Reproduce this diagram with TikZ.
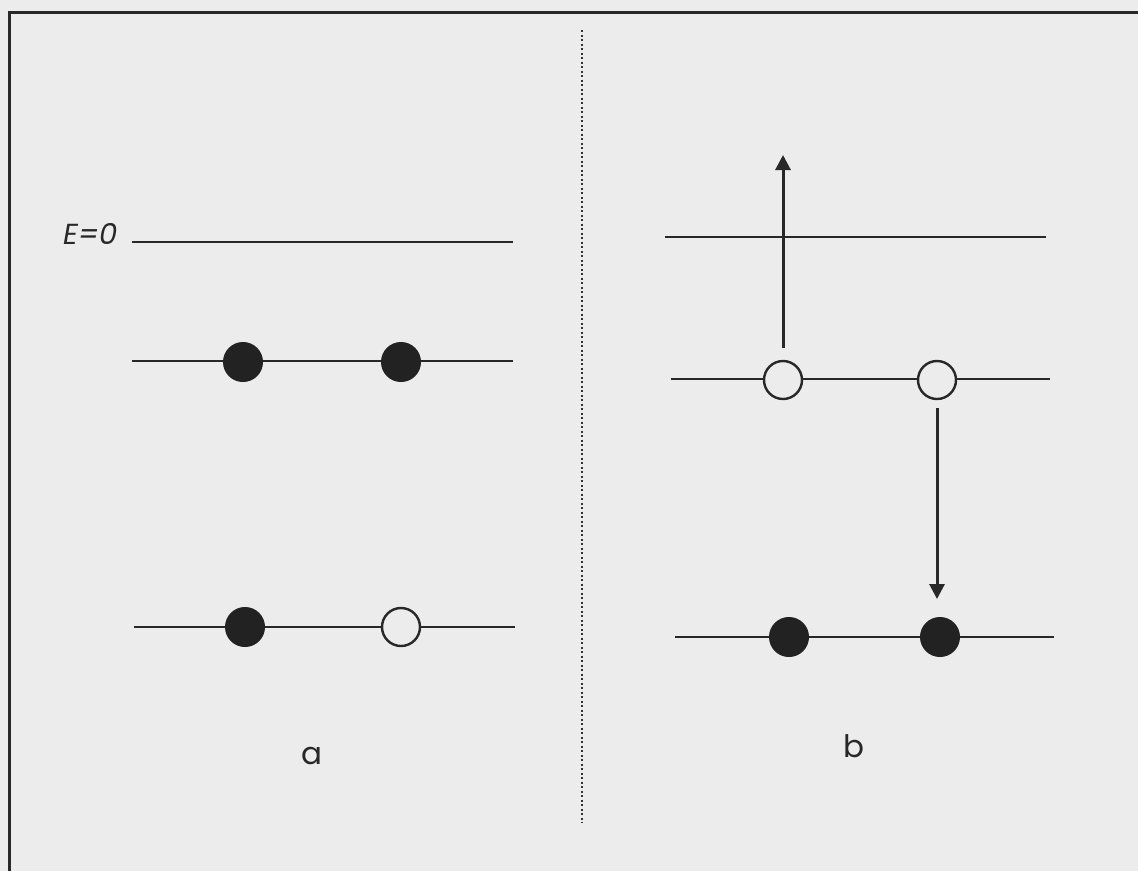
\documentclass[tikz,border=0pt]{standalone}
\usepackage{fontspec}
\setmainfont{Poppins}
\usetikzlibrary{arrows.meta}
\definecolor{bg}{RGB}{236,236,236}
\definecolor{ink}{RGB}{40,40,40}
\definecolor{dotc}{RGB}{50,50,50}
\begin{document}
\begin{tikzpicture}[x=1pt,y=-1pt,
  level/.style={draw=ink,line width=2.4pt},
  full/.style={circle,fill=ink!85!black,draw=ink!85!black,line width=1pt,minimum size=39pt,inner sep=0pt},
  hole/.style={circle,fill=bg,draw=ink,line width=2.4pt,minimum size=38pt,inner sep=0pt},
  jump/.style={draw=ink,line width=3pt,-{Triangle[length=15pt,width=15pt]}},
  lab/.style={font=\fontsize{31}{35}\selectfont,text=ink,anchor=base}]
\useasboundingbox (0,0) rectangle (1138,871);
\fill[bg] (0,0) rectangle (1138,871);
% frame
\draw[ink,line width=3pt] (9,871) -- (9,12) -- (1138,12);
% divider
\coordinate (dtop) at (582,30);
\coordinate (dbot) at (582,823);
\draw[dotc,line width=2.6pt,dash pattern=on 2.4pt off 2.1pt] (dtop) -- (dbot);
% ---- left (a)
\node[font=\fontsize{29}{33}\selectfont\itshape,text=ink,anchor=base west,inner sep=0pt] (E) at (63,244) {E=0};
\coordinate (l0a) at (132,242); \coordinate (l0b) at (513,242);
\draw[level] (l0a) -- (l0b);
\coordinate (l1a) at (132,361); \coordinate (l1b) at (513,361);
\draw[level] (l1a) -- (l1b);
\coordinate (l2a) at (134,627); \coordinate (l2b) at (515,627);
\draw[level] (l2a) -- (l2b);
\node[full] (a1) at (243,362) {};
\node[full] (a2) at (401,362) {};
\node[full] (a3) at (245,627) {};
\node[hole] (a4) at (401,627) {};
\node[lab] (la) at (312,764) {a};
% ---- right (b)
\coordinate (r0a) at (665,237); \coordinate (r0b) at (1046,237);
\draw[level] (r0a) -- (r0b);
\coordinate (r1a) at (671,379); \coordinate (r1b) at (1050,379);
\draw[level] (r1a) -- (r1b);
\coordinate (r2a) at (675,637); \coordinate (r2b) at (1054,637);
\draw[level] (r2a) -- (r2b);
\node[hole] (b1) at (783,380) {};
\node[hole] (b2) at (937,380) {};
\node[full] (b3) at (789,637) {};
\node[full] (b4) at (940,637) {};
\coordinate (up) at (783,155);
\draw[jump,shorten <=12pt] (b1) -- (up);
\draw[jump,shorten <=8pt,shorten >=18pt] (b2.south) -- (b4.north -| b2.south);
\node[lab] (lb) at (854,757) {b};
\end{tikzpicture}
\end{document}
